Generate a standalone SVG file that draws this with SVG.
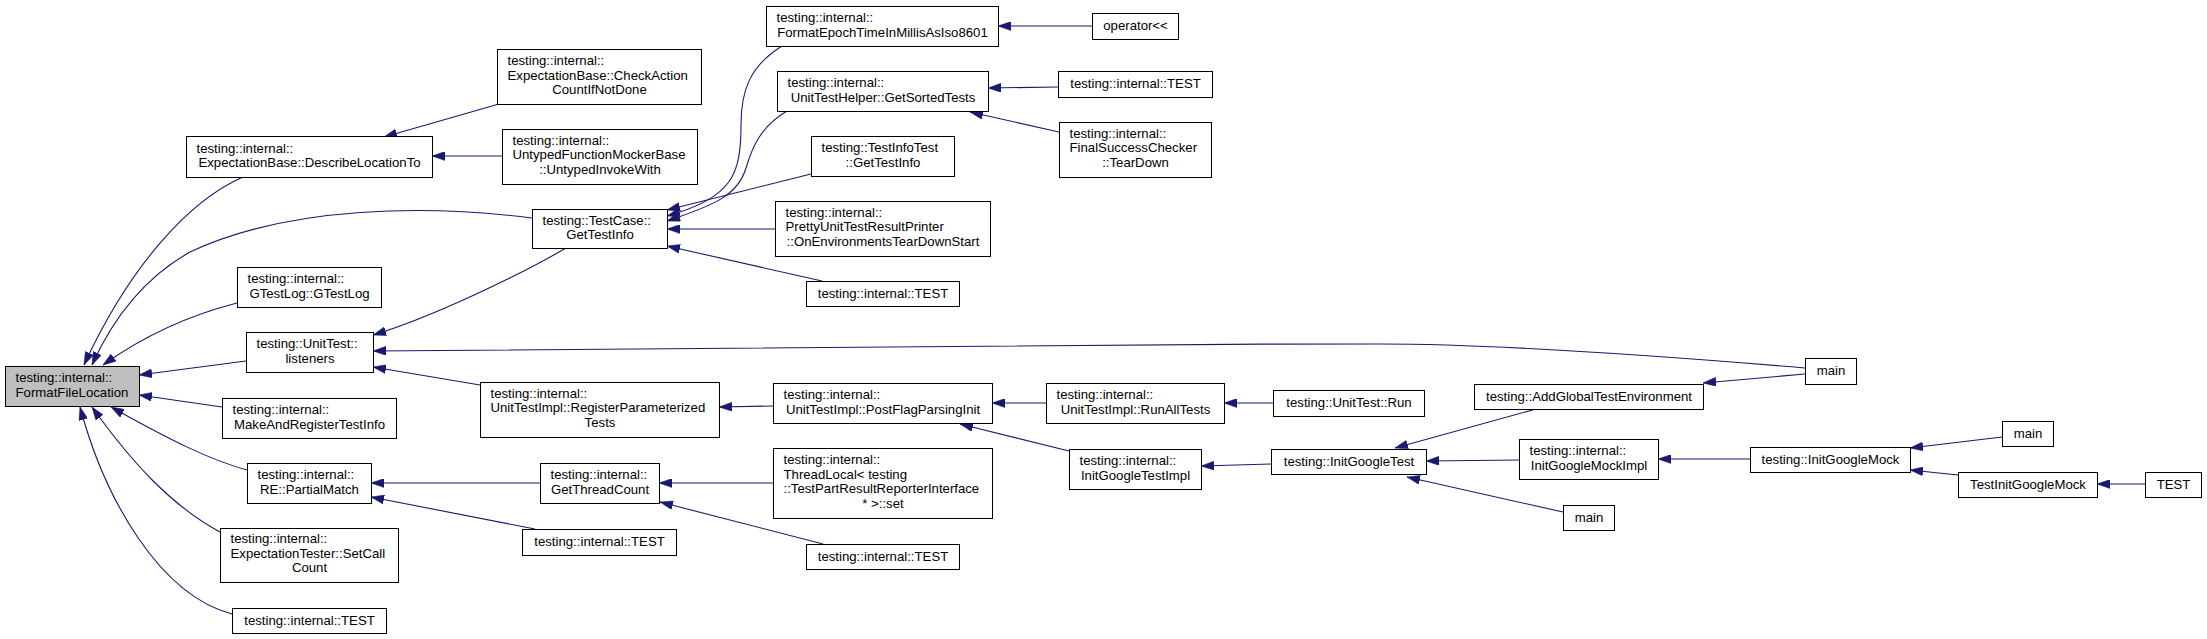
<svg xmlns="http://www.w3.org/2000/svg" width="2207" height="639" viewBox="0 0 2207 639">
<style>
.node rect{fill:#ffffff;stroke:#000000;stroke-width:1}
.node.root rect{fill:#bfbfbf}
.node text{font-family:"Liberation Sans",Arial,sans-serif;font-size:13.2px;fill:#000000}
.node text.c{text-anchor:middle}
#edges path{fill:none;stroke:#191970;stroke-width:1.1}
</style>
<defs>
<marker id="ah" markerUnits="userSpaceOnUse" viewBox="0 0 13 9" markerWidth="13" markerHeight="9" refX="13" refY="4.5" orient="auto">
<path d="M0,0 L13,4.5 L0,9 Z" fill="#191970" stroke="#191970" stroke-width="0.5"/>
</marker>
</defs>
<rect x="0" y="0" width="2207" height="639" fill="#ffffff"/>
<g id="edges">
<path marker-end="url(#ah)" d="M243,177 C190,200 130,265 84,365"/>
<path marker-end="url(#ah)" d="M532,218 C430,205 290,205 190,252 C140,280 110,325 92,365"/>
<path marker-end="url(#ah)" d="M237,303 C190,315 145,335 103,365"/>
<path marker-end="url(#ah)" d="M246,361 L139,375"/>
<path marker-end="url(#ah)" d="M222,407 L139,395"/>
<path marker-end="url(#ah)" d="M247,470 C210,460 170,440 111,407"/>
<path marker-end="url(#ah)" d="M220,532 C170,505 130,460 92,407"/>
<path marker-end="url(#ah)" d="M232,614 C160,595 105,500 80,407"/>
<path marker-end="url(#ah)" d="M499,104 L384,137"/>
<path marker-end="url(#ah)" d="M502,156 L432,156"/>
<path marker-end="url(#ah)" d="M566,248 C520,275 430,318 373,335"/>
<path marker-end="url(#ah)" d="M1805,368 C1650,355 1480,344 1380,344 C1000,344 600,348 373,351"/>
<path marker-end="url(#ah)" d="M480,385 L373,367"/>
<path marker-end="url(#ah)" d="M773,406 L719,407"/>
<path marker-end="url(#ah)" d="M1046,403 L992,403"/>
<path marker-end="url(#ah)" d="M1069,451 L960,424"/>
<path marker-end="url(#ah)" d="M1273,403 L1224,403"/>
<path marker-end="url(#ah)" d="M1271,464 L1201,466"/>
<path marker-end="url(#ah)" d="M1536,409 L1395,448"/>
<path marker-end="url(#ah)" d="M1519,460 L1426,461"/>
<path marker-end="url(#ah)" d="M1563,512 L1407,477"/>
<path marker-end="url(#ah)" d="M1805,374 L1703,383"/>
<path marker-end="url(#ah)" d="M1750,459 L1658,459"/>
<path marker-end="url(#ah)" d="M2002,437 L1910,448"/>
<path marker-end="url(#ah)" d="M1958,475 L1910,470"/>
<path marker-end="url(#ah)" d="M2145,484 L2097,484"/>
<path marker-end="url(#ah)" d="M540,483 L371,483"/>
<path marker-end="url(#ah)" d="M535,529 L371,497"/>
<path marker-end="url(#ah)" d="M773,483 L659,483"/>
<path marker-end="url(#ah)" d="M823,544 L660,502"/>
<path marker-end="url(#ah)" d="M782,46 C750,66 741,90 741,125 C741,175 732,198 667,216"/>
<path marker-end="url(#ah)" d="M787,111 C760,127 752,148 746,168 C738,195 715,205 667,221"/>
<path marker-end="url(#ah)" d="M811,174 L667,210"/>
<path marker-end="url(#ah)" d="M775,229 L667,229"/>
<path marker-end="url(#ah)" d="M822,281 L667,246"/>
<path marker-end="url(#ah)" d="M1092,26 L998,26"/>
<path marker-end="url(#ah)" d="M1058,87 L988,88"/>
<path marker-end="url(#ah)" d="M1059,132 L970,112"/>
</g>
<g id="n_formatfilelocation" class="node root"><rect x="5.5" y="366.5" width="134" height="40"/><text x="15.5" y="382.2">testing::internal::</text><text class="c" x="72" y="396.8">FormatFileLocation</text></g>
<g id="n_describelocationto" class="node"><rect x="186.5" y="136.5" width="246" height="41"/><text x="196.5" y="152.7">testing::internal::</text><text class="c" x="309.5" y="167.3">ExpectationBase::DescribeLocationTo</text></g>
<g id="n_checkaction" class="node"><rect x="497.5" y="49.5" width="204" height="55"/><text x="507.5" y="64.9">testing::internal::</text><text x="507.5" y="79.5">ExpectationBase::CheckAction</text><text class="c" x="599.5" y="94.1">CountIfNotDone</text></g>
<g id="n_untyped" class="node"><rect x="502.5" y="129.5" width="195" height="55"/><text x="512.5" y="144.7">testing::internal::</text><text x="512.5" y="159.3">UntypedFunctionMockerBase</text><text class="c" x="600" y="173.9">::UntypedInvokeWith</text></g>
<g id="n_gettestinfo" class="node"><rect x="532.5" y="209.5" width="135" height="39"/><text x="542.5" y="224.7">testing::TestCase::</text><text class="c" x="600" y="239.3">GetTestInfo</text></g>
<g id="n_gtestlog" class="node"><rect x="237.5" y="267.5" width="144" height="40"/><text x="247.5" y="283.2">testing::internal::</text><text class="c" x="309.5" y="297.8">GTestLog::GTestLog</text></g>
<g id="n_listeners" class="node"><rect x="246.5" y="332.5" width="127" height="40"/><text x="256.5" y="348.2">testing::UnitTest::</text><text class="c" x="310" y="362.8">listeners</text></g>
<g id="n_makeandregister" class="node"><rect x="222.5" y="398.5" width="174" height="40"/><text x="232.5" y="414.2">testing::internal::</text><text class="c" x="309.5" y="428.8">MakeAndRegisterTestInfo</text></g>
<g id="n_partialmatch" class="node"><rect x="247.5" y="463.5" width="124" height="40"/><text x="257.5" y="479.2">testing::internal::</text><text class="c" x="309.5" y="493.8">RE::PartialMatch</text></g>
<g id="n_setcallcount" class="node"><rect x="220.5" y="528.5" width="178" height="54"/><text x="230.5" y="543.2">testing::internal::</text><text x="230.5" y="557.8">ExpectationTester::SetCall</text><text class="c" x="309.5" y="572.4">Count</text></g>
<g id="n_test1" class="node"><rect x="232.5" y="608.5" width="154" height="25"/><text class="c" x="309.5" y="624.5">testing::internal::TEST</text></g>
<g id="n_formatepoch" class="node"><rect x="766.5" y="6.5" width="232" height="40"/><text x="776.5" y="22.2">testing::internal::</text><text class="c" x="882.5" y="36.8">FormatEpochTimeInMillisAsIso8601</text></g>
<g id="n_getsortedtests" class="node"><rect x="777.5" y="71.5" width="211" height="40"/><text x="787.5" y="87.2">testing::internal::</text><text class="c" x="883" y="101.8">UnitTestHelper::GetSortedTests</text></g>
<g id="n_testinfotest" class="node"><rect x="811.5" y="136.5" width="143" height="40"/><text x="821.5" y="152.2">testing::TestInfoTest</text><text class="c" x="883" y="166.8">::GetTestInfo</text></g>
<g id="n_pretty" class="node"><rect x="775.5" y="201.5" width="215" height="55"/><text x="785.5" y="216.7">testing::internal::</text><text x="785.5" y="231.3">PrettyUnitTestResultPrinter</text><text class="c" x="883" y="245.9">::OnEnvironmentsTearDownStart</text></g>
<g id="n_test2" class="node"><rect x="806.5" y="281.5" width="153" height="25"/><text class="c" x="883" y="297.5">testing::internal::TEST</text></g>
<g id="n_registerparam" class="node"><rect x="480.5" y="382.5" width="239" height="55"/><text x="490.5" y="397.7">testing::internal::</text><text x="490.5" y="412.3">UnitTestImpl::RegisterParameterized</text><text class="c" x="600" y="426.9">Tests</text></g>
<g id="n_getthreadcount" class="node"><rect x="540.5" y="463.5" width="119" height="40"/><text x="550.5" y="479.2">testing::internal::</text><text class="c" x="600" y="493.8">GetThreadCount</text></g>
<g id="n_test3" class="node"><rect x="522.5" y="529.5" width="154" height="26"/><text class="c" x="599.5" y="546">testing::internal::TEST</text></g>
<g id="n_postflag" class="node"><rect x="773.5" y="383.5" width="219" height="40"/><text x="783.5" y="399.2">testing::internal::</text><text class="c" x="883" y="413.8">UnitTestImpl::PostFlagParsingInit</text></g>
<g id="n_threadlocal" class="node"><rect x="773.5" y="448.5" width="219" height="70"/><text x="783.5" y="463.9">testing::internal::</text><text x="783.5" y="478.5">ThreadLocal&lt; testing</text><text x="783.5" y="493.1">::TestPartResultReporterInterface</text><text class="c" x="883" y="507.7">* &gt;::set</text></g>
<g id="n_test4" class="node"><rect x="806.5" y="544.5" width="153" height="25"/><text class="c" x="883" y="560.5">testing::internal::TEST</text></g>
<g id="n_operator" class="node"><rect x="1092.5" y="13.5" width="86" height="26"/><text class="c" x="1135.5" y="30">operator&lt;&lt;</text></g>
<g id="n_test5" class="node"><rect x="1058.5" y="71.5" width="154" height="26"/><text class="c" x="1135.5" y="88">testing::internal::TEST</text></g>
<g id="n_finalsuccess" class="node"><rect x="1059.5" y="122.5" width="152" height="55"/><text x="1069.5" y="137.7">testing::internal::</text><text x="1069.5" y="152.3">FinalSuccessChecker</text><text class="c" x="1135.5" y="166.9">::TearDown</text></g>
<g id="n_runalltests" class="node"><rect x="1046.5" y="383.5" width="178" height="40"/><text x="1056.5" y="399.2">testing::internal::</text><text class="c" x="1135.5" y="413.8">UnitTestImpl::RunAllTests</text></g>
<g id="n_unittestrun" class="node"><rect x="1273.5" y="390.5" width="151" height="26"/><text class="c" x="1349" y="407">testing::UnitTest::Run</text></g>
<g id="n_initgoogletestimpl" class="node"><rect x="1069.5" y="449.5" width="132" height="40"/><text x="1079.5" y="465.2">testing::internal::</text><text class="c" x="1135.5" y="479.8">InitGoogleTestImpl</text></g>
<g id="n_initgoogletest" class="node"><rect x="1271.5" y="449.5" width="155" height="25"/><text class="c" x="1349" y="465.5">testing::InitGoogleTest</text></g>
<g id="n_addglobal" class="node"><rect x="1474.5" y="384.5" width="229" height="25"/><text class="c" x="1589" y="400.5">testing::AddGlobalTestEnvironment</text></g>
<g id="n_initgooglemockimpl" class="node"><rect x="1519.5" y="439.5" width="139" height="40"/><text x="1529.5" y="455.2">testing::internal::</text><text class="c" x="1589" y="469.8">InitGoogleMockImpl</text></g>
<g id="n_main1" class="node"><rect x="1563.5" y="505.5" width="51" height="25"/><text class="c" x="1589" y="521.5">main</text></g>
<g id="n_main2" class="node"><rect x="1805.5" y="358.5" width="51" height="26"/><text class="c" x="1831" y="375">main</text></g>
<g id="n_initgooglemock" class="node"><rect x="1750.5" y="447.5" width="160" height="25"/><text class="c" x="1830.5" y="463.5">testing::InitGoogleMock</text></g>
<g id="n_main3" class="node"><rect x="2002.5" y="421.5" width="51" height="25"/><text class="c" x="2028" y="437.5">main</text></g>
<g id="n_testinitgooglemock" class="node"><rect x="1958.5" y="472.5" width="139" height="25"/><text class="c" x="2028" y="488.5">TestInitGoogleMock</text></g>
<g id="n_test6" class="node"><rect x="2145.5" y="472.5" width="56" height="25"/><text class="c" x="2173.5" y="488.5">TEST</text></g>
</svg>
